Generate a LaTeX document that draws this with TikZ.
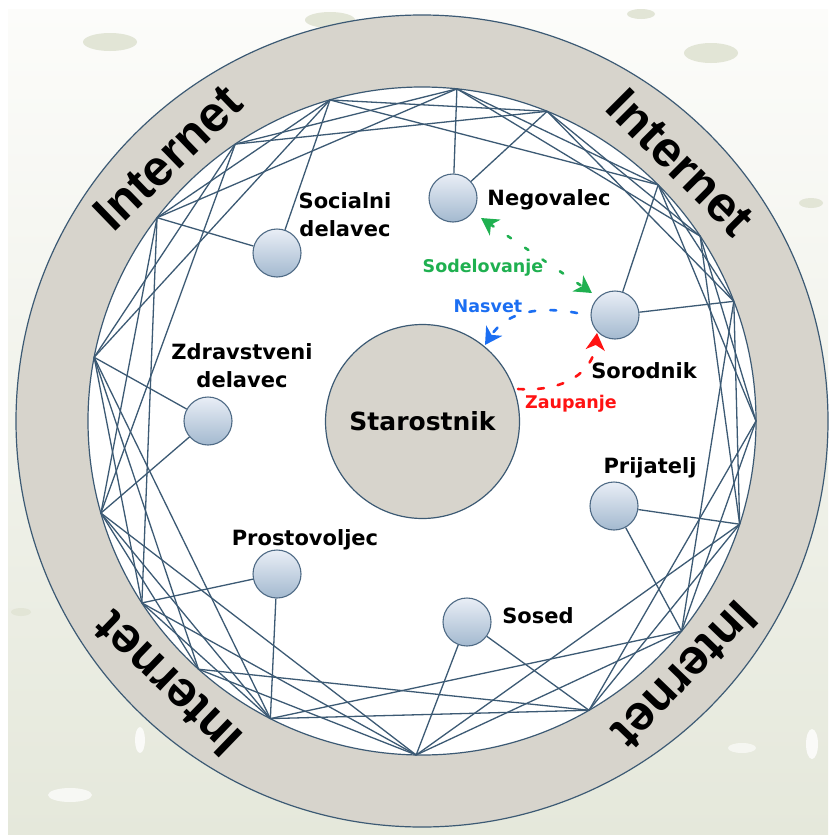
\documentclass[tikz,border=0pt]{standalone}
\usepackage{fontspec}
\setmainfont{DejaVu Sans}
\newfontfamily\ringfont{Liberation Sans}
\usetikzlibrary{arrows.meta,calc}

\definecolor{ringfill}{HTML}{D7D4CC}
\definecolor{edge}{HTML}{3C5A74}
\definecolor{nodetop}{HTML}{E9EEF6}
\definecolor{nodebot}{HTML}{A3B9CF}
\definecolor{nodeline}{HTML}{4E6A85}
\definecolor{bgtop}{HTML}{FCFCFA}
\definecolor{bgbot}{HTML}{E5E8DB}
\definecolor{blob}{HTML}{E2E5D6}
\definecolor{grn}{HTML}{1FB050}
\definecolor{blu}{HTML}{1B6EF2}
\definecolor{rd}{HTML}{FF1212}

\begin{document}
\begin{tikzpicture}[x=1pt,y=-1pt,
  mesh/.style={draw=edge, line width=1.3pt},
  person/.style={circle, minimum size=48pt, inner sep=0pt, draw=nodeline,
    line width=1.1pt, top color=nodetop, bottom color=nodebot},
  lbl/.style={font=\fontsize{21}{28}\selectfont\bfseries, inner sep=0pt, align=center},
  rellbl/.style={font=\fontsize{17.5}{20}\selectfont\bfseries, inner sep=0pt},
  net/.style={font=\ringfont\fontsize{50}{50}\selectfont\bfseries, inner sep=0pt},
  rel/.style={line width=2.6pt, line cap=round}
]
\useasboundingbox (0,0) rectangle (828,835);

% backdrop with a few soft spots
\fill[white] (0,0) rectangle (828,835);
\shade[top color=bgtop, bottom color=bgbot] (8,9) rectangle (828,835);
\fill[blob] (110,42) ellipse [x radius=27, y radius=9];
\fill[blob] (330,20) ellipse [x radius=25, y radius=8];
\fill[blob] (711,53) ellipse [x radius=27, y radius=10];
\fill[blob] (641,14) ellipse [x radius=14, y radius=5];
\fill[blob] (811,203) ellipse [x radius=12, y radius=5];
\fill[blob] (21,612) ellipse [x radius=10, y radius=4];
\fill[white, opacity=0.8] (140,740) ellipse [x radius=5, y radius=13];
\fill[white, opacity=0.7] (70,795) ellipse [x radius=22, y radius=7];
\fill[white, opacity=0.8] (812,744) ellipse [x radius=6, y radius=15];
\fill[white, opacity=0.6] (742,748) ellipse [x radius=14, y radius=5];

% Internet ring and inner field
\filldraw[fill=ringfill, draw=edge, line width=1.2pt] (422,421) circle [radius=406];
\filldraw[fill=white, draw=edge, line width=1.2pt] (422,421) circle [radius=334];

% ring labels
\foreach \a/\n in {134/a,45/b,226/c,316/d}
  \node[net, rotate=\a-90] (net\n) at ({422+366*cos(\a)},{421-366*sin(\a)}) {Internet};

% hub points on the inner circle
\foreach \i/\a in {1/84,2/68,3/45,4/33.6,5/21,6/0,7/342,8/321,9/300,10/269,
                   11/243,12/228,13/213,14/196,15/169,16/142.5,17/124,18/106}
  \coordinate (v\i) at ({422+334*cos(\a)},{421-334*sin(\a)});

% central person
\node[circle, minimum size=194pt, inner sep=0pt, fill=ringfill, draw=edge,
      line width=1.2pt, font=\fontsize{25}{25}\selectfont\bfseries] (star) at (422.5,421.5) {Starostnik};

% participants
\node[person] (soc) at (277,253) {};
\node[person] (neg) at (453,198) {};
\node[person] (sor) at (615,315) {};
\node[person] (zdr) at (208,421) {};
\node[person] (pri) at (614,506) {};
\node[person] (pro) at (277,574) {};
\node[person] (sos) at (467,622) {};

% mesh of links between hub points
\foreach \p/\q in {1/3,1/4,2/4,2/5,3/5,3/6,4/6,4/7,5/7,5/8,6/8,6/9,7/9,7/10,
                   8/10,8/11,9/11,9/12,10/12,10/13,11/13,11/14,12/14,12/15,
                   13/15,13/16,14/16,14/17,15/17,15/18,16/18,16/1,17/1,17/2,
                   18/2,18/3,14/10,15/11}
  \draw[mesh] (v\p) -- (v\q);

% participants joined to the mesh
\foreach \n/\p/\q in {soc/18/16, neg/1/2, sor/3/5, zdr/15/14, pri/7/8, pro/13/11, sos/10/9}{
  \draw[mesh] (\n) -- (v\p);
  \draw[mesh] (\n) -- (v\q);
}

% labels
\node[lbl] (socl) at (345,215) {Socialni\\delavec};
\node[lbl] (zdrl) at (242,366) {Zdravstveni\\delavec};
\node[lbl, anchor=base] (negl) at (549,205) {Negovalec};
\node[lbl, anchor=base] (sorl) at (644,378) {Sorodnik};
\node[lbl, anchor=base] (pril) at (650,473) {Prijatelj};
\node[lbl, anchor=base] (sosl) at (538,623) {Sosed};
\node[lbl, anchor=base] (prol) at (305,545) {Prostovoljec};

% relations
\coordinate (gA) at (481,218);
\coordinate (gB) at (592,293);
\coordinate (bA) at (577,313);
\coordinate (bB) at (485,345);
\coordinate (rA) at (518,389);
\coordinate (rB) at (597,333);
\draw[rel, grn, dash pattern=on 4pt off 17pt, {Stealth[length=17pt,width=19pt,inset=5pt]}-{Stealth[length=17pt,width=19pt,inset=5pt]}] (gA) -- (gB);
\draw[rel, blu, dash pattern=on 6pt off 15pt, -{Stealth[length=17pt,width=19pt,inset=5pt]}] (bA) .. controls (535,305) and (505,314) .. (bB);
\draw[rel, rd, dash pattern=on 6pt off 14pt, -{Stealth[length=17pt,width=19pt,inset=5pt]}] (rA) .. controls (565,392) and (593,372) .. (rB);

\node[rellbl, text=grn, anchor=base] (sodl) at (483,272) {Sodelovanje};
\node[rellbl, text=blu, anchor=base] (nasl) at (488,312) {Nasvet};
\node[rellbl, text=rd, anchor=base] (zaul) at (571,408) {Zaupanje};
\end{tikzpicture}
\end{document}
